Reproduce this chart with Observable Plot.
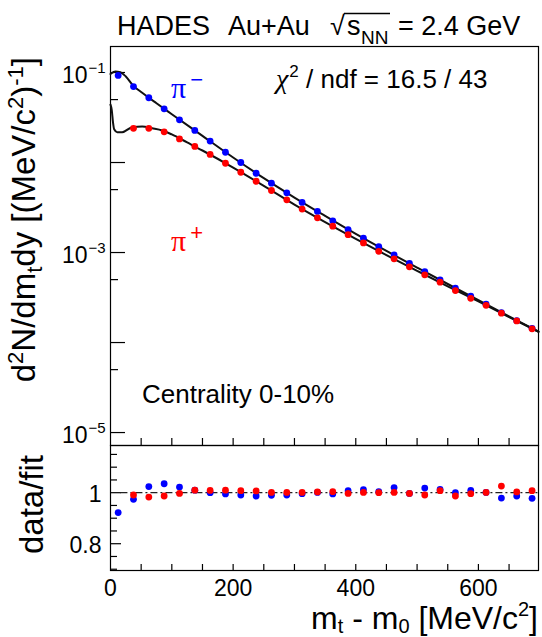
<!DOCTYPE html>
<html><head><meta charset="utf-8">
<script src="https://cdn.jsdelivr.net/npm/d3@7"></script>
<script src="https://cdn.jsdelivr.net/npm/@observablehq/plot@0.6"></script>
<style>
html,body{margin:0;padding:0;background:#fff;}
#chart{position:relative;width:542px;height:637px;overflow:hidden;}
#chart svg{position:absolute;left:0;overflow:visible;}
</style></head><body><div id="chart"></div>
<script>
// ---- data ----
const mtMinus = [12.5,37.5,62.5,87.5,112.5,137.5,162.5,187.5,212.5,237.5,262.5,287.5,312.5,337.5,362.5,387.5,412.5,437.5,462.5,487.5,512.5,537.5,562.5,587.5,612.5,637.5,662.5,687.5];
const mtPlus = [37.5,62.5,87.5,112.5,137.5,162.5,187.5,212.5,237.5,262.5,287.5,312.5,337.5,362.5,387.5,412.5,437.5,462.5,487.5,512.5,537.5,562.5,587.5,612.5,637.5,662.5,687.5];
const yieldMinus = [0.0927,0.0698,0.0524,0.0395,0.0298,0.0227,0.0173,0.0130,0.0100,0.00760,0.00589,0.00460,0.00360,0.00286,0.00225,0.00180,0.00144,0.00116,0.000942,0.000755,0.000615,0.000498,0.000401,0.000327,0.000267,0.000215,0.000175,0.000144];
const yieldPlus = [0.0240,0.0240,0.0219,0.0183,0.0151,0.0123,0.00982,0.00780,0.00619,0.00489,0.00385,0.00304,0.00243,0.00196,0.00158,0.00128,0.00103,0.000851,0.000693,0.000565,0.000468,0.000378,0.000310,0.000259,0.000212,0.000174,0.000142];
const fitMinusX = [0,1.6,8,16,25,37.5,50,75,100,150,200,250,300,350,400,450,500,550,600,650,698];
const fitMinusY = [0.0962,0.0982,0.1026,0.1007,0.0902,0.0708,0.0607,0.0455,0.0344,0.0198,0.01138,0.00670,0.00408,0.00255,0.00161,0.00104,0.000681,0.000447,0.000295,0.000195,0.000132];
const fitPlusX = [0,2,4,6,11,19,35.5,51.7,68,84.5,100,125,150,200,250,300,350,400,450,500,550,600,650,698];
const fitPlusY = [0.0440,0.0385,0.0282,0.0234,0.0217,0.0217,0.0247,0.0251,0.0240,0.0227,0.0205,0.0167,0.0136,0.00879,0.00551,0.00341,0.00218,0.00142,0.000938,0.000627,0.000421,0.000286,0.000192,0.000132];
const ratioMinus = [0.922,0.974,1.024,1.035,1.022,1.010,1.000,0.995,0.991,0.987,0.990,0.991,0.996,1.001,0.995,1.008,1.012,1.004,1.020,0.997,1.018,1.013,1.000,1.009,1.001,0.979,0.987,0.978];
const ratioPlus = [0.991,0.983,0.987,0.997,1.010,1.009,1.010,1.008,1.007,1.001,1.001,1.001,1.003,1.004,0.997,1.001,1.000,1.001,0.997,0.991,1.008,0.987,0.996,1.001,1.026,1.003,1.008];
const xTicks = [50,100,150,200,250,300,350,400,450,500,550,600,650];
const xLabels = [0,200,400,600];
const yMajor = [1e-1,1e-2,1e-3,1e-4,1e-5];
const yMinor = [5e-2,5e-3,5e-4,5e-5];
const yLabels = [1e-1,1e-3,1e-5];
const rMajor = [0.8,1.0];
const rMinor = [0.7,0.75,0.85,0.9,0.95,1.05,1.1,1.15];
const rLabels = [0.8,1];

// ---- layout ----
const SANS = "Liberation Sans, Arial, Helvetica, sans-serif";
const SERIF = "Liberation Serif, Times New Roman, serif";
const W = 542, ML = 110, MR = 4;
const FW = W - ML - MR;           // frame width
const xDomain = [0, 698];
const topH = 446, topMT = 46, topMB = 1, topFH = topH - topMT - topMB;
const botH = 193, botMT = 1, botMB = 67, botFH = botH - botMT - botMB;

const minus = mtMinus.map((x,i)=>({x, y: yieldMinus[i]}));
const plus = mtPlus.map((x,i)=>({x, y: yieldPlus[i]}));
const fitM = fitMinusX.map((x,i)=>({x, y: fitMinusY[i]}));
const fitP = fitPlusX.map((x,i)=>({x, y: fitPlusY[i]}));
const rM = mtMinus.map((x,i)=>({x, y: ratioMinus[i]}));
const rP = mtPlus.map((x,i)=>({x, y: ratioPlus[i]}));

const topPlot = Plot.plot({
  width: W, height: topH,
  marginLeft: ML, marginRight: MR, marginTop: topMT, marginBottom: topMB,
  style: {fontFamily: SANS, color: "black", background: "transparent", overflow: "visible"},
  x: {domain: xDomain, axis: null},
  y: {type: "log", domain: [7.18e-6, 0.1945]},
  marks: [
    Plot.frame({stroke: "black", strokeWidth: 1.2}),
    Plot.tickY(yMajor, {insetRight: FW - 15, stroke: "black", strokeWidth: 1.2}),
    Plot.tickY(yMinor, {insetRight: FW - 8, stroke: "black", strokeWidth: 1.2}),
    Plot.tickX(xTicks, {insetTop: topFH - 7, stroke: "black", strokeWidth: 1.2}),
    Plot.axisY(yLabels, {anchor: "left", tickSize: 0, tickPadding: 23, fontSize: 23, dy: 3, label: null,
      tickFormat: () => "10"}),
    Plot.axisY(yLabels, {anchor: "left", tickSize: 0, tickPadding: 22, textAnchor: "start", fontSize: 15, dy: -4, label: null,
      tickFormat: d => "\u2212" + Math.round(-Math.log10(d))}),
    Plot.line(fitM, {x: "x", y: "y", curve: "monotone-x", stroke: "#111", strokeWidth: 2}),
    Plot.line(fitP, {x: "x", y: "y", curve: "monotone-x", stroke: "#111", strokeWidth: 2}),
    Plot.dot(minus, {x: "x", y: "y", r: 3.4, fill: "#0000ff"}),
    Plot.dot(plus, {x: "x", y: "y", r: 3.4, fill: "#ff0000"})
  ]
});

const botPlot = Plot.plot({
  width: W, height: botH,
  marginLeft: ML, marginRight: MR, marginTop: botMT, marginBottom: botMB,
  style: {fontFamily: SANS, color: "black", background: "transparent", overflow: "visible"},
  x: {domain: xDomain},
  y: {domain: [0.695, 1.185]},
  marks: [
    Plot.frame({stroke: "black", strokeWidth: 1.2}),
    Plot.tickY(rMajor, {insetRight: FW - 11, stroke: "black", strokeWidth: 1.2}),
    Plot.tickY(rMinor, {insetRight: FW - 7, stroke: "black", strokeWidth: 1.2}),
    Plot.tickX(xTicks, {insetTop: botFH - 6, stroke: "black", strokeWidth: 1.2}),
    Plot.axisY(rLabels, {anchor: "left", tickSize: 0, tickPadding: 9, fontSize: 23, dy: 2, label: null,
      tickFormat: d => String(d)}),
    Plot.axisX(xLabels, {anchor: "bottom", tickSize: 0, tickPadding: 9, fontSize: 23, label: null}),
    Plot.ruleY([1], {x1: 17, x2: xDomain[1], stroke: "#222", strokeWidth: 1.2, strokeDasharray: "7,3,2,3"}),
    Plot.dot(rM, {x: "x", y: "y", r: 3.4, fill: "#0000ff"}),
    Plot.dot(rP, {x: "x", y: "y", r: 3.4, fill: "#ff0000"})
  ]
});

const chart = document.getElementById("chart");
topPlot.style.top = "0px";
botPlot.style.top = "444px";
chart.appendChild(topPlot);
chart.appendChild(botPlot);

// ---- texts ----
const st = d3.select(topPlot);
const sb = d3.select(botPlot);

// title
const t = st.append("text").attr("y", 35).attr("font-size", 27).attr("font-family", SANS).attr("fill", "black").attr("text-anchor", "start");
t.append("tspan").attr("x", 117).text("HADES");
t.append("tspan").attr("x", 228).text("Au+Au");
t.append("tspan").attr("x", 330).text("\u221A");
t.append("tspan").attr("x", 347).text("s");
t.append("tspan").attr("x", 361).attr("dy", 9).attr("font-size", 19).text("NN");
t.append("tspan").attr("x", 398).attr("dy", -9).text("= 2.4 GeV");
st.append("line").attr("x1", 344).attr("x2", 390).attr("y1", 13.5).attr("y2", 13.5)
  .attr("stroke", "black").attr("stroke-width", 1.3);

// y axis title (top)
const yl = st.append("text").attr("transform", "translate(35,57) rotate(-90)")
  .attr("text-anchor", "end").attr("font-size", 33).attr("font-family", SANS).attr("fill", "black");
yl.append("tspan").text("d");
yl.append("tspan").attr("font-size", 22).attr("dy", -12).text("2");
yl.append("tspan").attr("dy", 12).text("N/dm");
yl.append("tspan").attr("font-size", 22).attr("dy", 7).text("t");
yl.append("tspan").attr("dy", -7).text("dy [(MeV/c");
yl.append("tspan").attr("font-size", 22).attr("dy", -12).text("2");
yl.append("tspan").attr("dy", 12).text(")");
yl.append("tspan").attr("font-size", 22).attr("dy", -12).text("-1");
yl.append("tspan").attr("dy", 12).text("]");

// pi- label
const pm = st.append("text").attr("x", 171).attr("y", 98).attr("text-anchor", "start").attr("fill", "#0000ff").attr("font-family", SERIF).attr("font-size", 30);
pm.append("tspan").text("\u03C0");
pm.append("tspan").attr("dx", 4).attr("dy", -11).attr("font-size", 22).attr("font-family", SANS).text("\u2212");

// pi+ label
const pp = st.append("text").attr("x", 171).attr("y", 251).attr("text-anchor", "start").attr("fill", "#ff0000").attr("font-family", SERIF).attr("font-size", 30);
pp.append("tspan").text("\u03C0");
pp.append("tspan").attr("dx", 4).attr("dy", -11).attr("font-size", 22).attr("font-family", SANS).text("+");

// chi2
const ch = st.append("text").attr("x", 276).attr("y", 88).attr("text-anchor", "start").attr("fill", "black").attr("font-family", SANS).attr("font-size", 26);
ch.append("tspan").attr("font-family", SERIF).attr("font-style", "italic").attr("font-size", 28).text("\u03C7");
ch.append("tspan").attr("font-size", 17).attr("dy", -11).attr("dx", 1).text("2");
ch.append("tspan").attr("dy", 11).text(" / ndf = 16.5 / 43");

// centrality
st.append("text").attr("x", 142).attr("y", 403).attr("text-anchor", "start").attr("fill", "black").attr("font-family", SANS)
  .attr("font-size", 26).text("Centrality 0-10%");

// ratio y title
sb.append("text").attr("transform", "translate(43,11) rotate(-90)").attr("text-anchor", "end")
  .attr("font-size", 33).attr("font-family", SANS).attr("fill", "black").text("data/fit");

// x axis title
const xl = sb.append("text").attr("x", 538).attr("y", 185).attr("text-anchor", "end")
  .attr("font-size", 32).attr("font-family", SANS).attr("fill", "black");
xl.append("tspan").text("m");
xl.append("tspan").attr("font-size", 20).attr("dy", 4).text("t");
xl.append("tspan").attr("dy", -4).text(" - m");
xl.append("tspan").attr("font-size", 20).attr("dy", 4).text("0");
xl.append("tspan").attr("dy", -4).text(" [MeV/c");
xl.append("tspan").attr("font-size", 20).attr("dy", -13).text("2");
xl.append("tspan").attr("dy", 13).text("]");
</script>
</body></html>
